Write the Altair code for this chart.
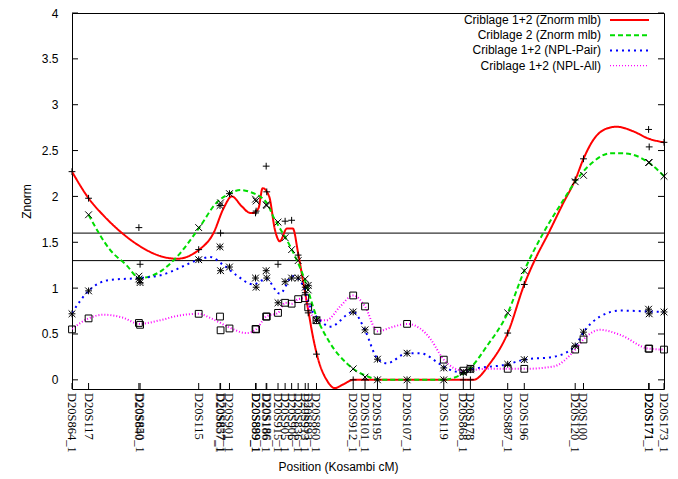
import altair as alt
import pandas as pd

# ---------------- data ----------------
series_names = ["Criblage 1+2 (Znorm mlb)", "Criblage 2 (Znorm mlb)",
                "Criblage 1+2 (NPL-Pair)", "Criblage 1+2 (NPL-All)"]

marker_names = ["D20S864_1", "D20S117", "D20S840", "D20S850_1", "D20S115",
                "D20S857_1", "D20S837_1", "D20S901_1", "D20S899_1", "D20S889_1",
                "D20S186_1", "D20S186", "D20S915_1", "D20S905_1", "D20S906",
                "D20S836_1", "D20S913_1", "D20S893", "D20S860_1", "D20S912_1",
                "D20S101_1", "D20S195", "D20S107_1", "D20S119", "D20S868_1",
                "D20S178", "D20S887_1", "D20S196", "D20S120_1", "D20S100",
                "D20S171_1", "D20S171", "D20S173_1"]
marker_pos = [0, 2.8, 11.3, 11.5, 21.4, 25.0, 25.1, 26.6, 31.0, 31.1,
              32.8, 32.9, 34.8, 36.0, 37.1, 38.2, 39.4, 39.9, 41.3, 47.5,
              49.5, 51.6, 56.6, 62.8, 66.1, 67.3, 73.6, 76.4, 85.0, 86.4,
              97.4, 97.5, 100]

red_pts = [2.27, 1.98, 1.66, 1.26, 1.42, 1.90, 1.60, 2.03, 1.82, 1.84,
           2.33, 2.05, 1.26, 1.73, 1.74, 1.36, 0.95, 0.73, 0.28, 0,
           0, 0, 0, 0, 0, 0, 0.51, 1.04, 2.18, 2.41,
           2.73, 2.54, 2.59]
green_pts = [None, 1.80, 1.13, 1.08, 1.66, 1.90, 1.93, 2.03, 1.97, 1.95,
             1.91, 1.90, 1.72, 1.55, 1.42, 1.30, 1.10, 0.98, 0.65, 0.12,
             0.03, 0, 0, 0, 0.09, 0.13, 0.73, 1.19, 2.16, 2.23,
             2.37, 2.37, 2.22]
blue_pts = [0.72, 0.97, 1.10, 1.06, 1.31, 1.45, 1.19, 1.23, 1.11, 1.01,
            1.19, 1.11, 0.84, 1.07, 1.11, 1.11, 1.01, 1.03, 0.65, 0.74,
            0.545, 0.225, 0.29, 0.13, 0.08, 0.11, 0.17, 0.22, 0.37, 0.52,
            0.77, 0.72, 0.74]
mag_pts = [0.55, 0.67, 0.62, 0.60, 0.72, 0.69, 0.54, 0.56, 0.555, 0.55,
           0.69, 0.69, 0.73, 0.84, 0.83, 0.88, 0.89, 0.79, 0.65, 0.92,
           0.80, 0.535, 0.61, 0.22, 0.10, 0.12, 0.12, 0.12, 0.33, 0.44,
           0.34, 0.34, 0.33]

# smoothed curves
red_cx = [0, 2.8, 5.5, 8.1, 11.4, 14.9, 17.7, 21.5, 23.9, 25.6,
          27.0, 28.7, 30.1, 30.6, 31.5, 32.2, 33.3, 34.3, 35.1, 36.3,
          37.3, 38.2, 39.1, 39.9, 40.7, 41.6, 43.0, 44.4, 45.8, 47.5,
          56.6, 66.1, 67.8, 70.6, 73.6, 76.4, 78.2, 80.5, 83.0, 85.0,
          86.4, 88.1, 90.3, 92.0, 94.8, 97.4, 100]
red_cy = [2.27, 1.98, 1.78, 1.62, 1.46, 1.35, 1.32, 1.42, 1.60, 1.87,
          2.00, 1.89, 1.82, 1.82, 1.87, 2.09, 2.00, 1.63, 1.51, 1.65,
          1.65, 1.38, 1.05, 0.76, 0.47, 0.22, 0.0, -0.09, -0.05, 0,
          0, 0, 0.0, 0.18, 0.51, 1.04, 1.31, 1.60, 1.93, 2.18,
          2.41, 2.62, 2.74, 2.76, 2.71, 2.63, 2.59]
green_cx = [2.8, 6.4, 9.2, 11.4, 14.9, 17.7, 21.5, 24.4, 26.6, 28.4,
            30.0, 32.9, 34.0, 34.6, 36.9, 39.1, 41.3, 43.6, 46.4, 49.8,
            52.0, 62.8, 64.4, 67.3, 70.0, 73.6, 76.4, 79.6, 83.0, 85.0,
            88.1, 90.9, 93.1, 97.4, 100]
green_cy = [1.80, 1.42, 1.25, 1.11, 1.18, 1.34, 1.66, 1.93, 2.03, 2.07,
            2.05, 1.93, 1.78, 1.71, 1.45, 1.13, 0.69, 0.40, 0.18, 0.04,
            0, 0, 0.02, 0.13, 0.36, 0.73, 1.19, 1.60, 1.96, 2.16,
            2.38, 2.47, 2.47, 2.37, 2.22]
blue_cx = [0, 2.8, 6.4, 11.4, 14.9, 21.5, 23.3, 25.6, 27.8, 30.6,
           32.8, 35.1, 37.3, 39.1, 40.2, 41.9, 43.6, 47.5, 49.5, 51.6,
           53.2, 56.6, 58.8, 62.2, 63.5, 66.1, 67.3, 73.6, 76.4, 81.3,
           85.0, 86.4, 89.2, 92.6, 97.4, 100]
blue_cy = [0.73, 0.97, 1.09, 1.11, 1.14, 1.31, 1.34, 1.25, 1.14, 1.04,
           1.10, 0.94, 1.13, 1.02, 0.80, 0.65, 0.58, 0.74, 0.54, 0.23,
           0.18, 0.29, 0.29, 0.17, 0.12, 0.08, 0.11, 0.17, 0.22, 0.25,
           0.37, 0.52, 0.69, 0.755, 0.745, 0.74]
mag_cx = [0, 2.8, 5.3, 8.5, 11.4, 14.9, 18.0, 21.4, 23.5, 25.1,
          26.6, 29.5, 31.1, 32.8, 34.8, 36.0, 37.1, 38.2, 39.4, 39.9,
          41.3, 43.0, 45.3, 47.5, 49.5, 51.6, 54.3, 56.6, 58.8, 60.5,
          62.8, 66.1, 70.0, 73.6, 76.4, 81.3, 85.0, 86.4, 89.2, 92.6,
          97.4, 100]
mag_cy = [0.555, 0.67, 0.71, 0.68, 0.61, 0.65, 0.70, 0.72, 0.67, 0.62,
          0.57, 0.51, 0.55, 0.69, 0.73, 0.84, 0.83, 0.88, 0.89, 0.80,
          0.65, 0.65, 0.80, 0.92, 0.80, 0.53, 0.58, 0.61, 0.56, 0.45,
          0.22, 0.10, 0.12, 0.12, 0.12, 0.145, 0.33, 0.44, 0.545, 0.49,
          0.34, 0.33]

thresholds = [1.6, 1.3]
y_tick_values = [0, 0.5, 1, 1.5, 2, 2.5, 3, 3.5, 4]

# ---------------- styles ----------------
colors = ["#ff0000", "#00dd00", "#0000ff", "#ff00ff"]
dashes = [[1, 0], [5, 3], [2, 4], [1, 2]]
widths = [2, 2, 2, 1.1]
shapes = ["M-1,0L1,0M0,-1L0,1",
          "M-1,-1L1,1M-1,1L1,-1",
          "M-1,0L1,0M0,-1L0,1M-1,-1L1,1M-1,1L1,-1",
          "M-1,-1L1,-1L1,1L-1,1Z"]
W, H = 592, 376
FONT = "Liberation Sans"

# ---------------- tables ----------------
curve_rows = []
for name, xs, ys in zip(series_names, [red_cx, green_cx, blue_cx, mag_cx],
                        [red_cy, green_cy, blue_cy, mag_cy]):
    for a, b in zip(xs, ys):
        curve_rows.append({"series": name, "x": a, "y": b})
curves = pd.DataFrame(curve_rows)

pt_rows = []
for name, vals in zip(series_names, [red_pts, green_pts, blue_pts, mag_pts]):
    for p, v in zip(marker_pos, vals):
        if v is not None:
            pt_rows.append({"series": name, "x": p, "y": v})
points = pd.DataFrame(pt_rows)

markers = pd.DataFrame({"name": marker_names, "x": marker_pos})
ticks_df = pd.DataFrame({"y": y_tick_values})
thr_df = pd.DataFrame({"y": thresholds})

xscale = alt.Scale(domain=[0, 100], nice=False, zero=False)
yscale = alt.Scale(domain=[-0.1, 4], nice=False, zero=False)
xaxis = alt.Axis(title="Position (Kosambi cM)", labels=False, ticks=False,
                 domain=False, grid=False, titleX=266, titleY=77,
                 titleAlign="center", titleBaseline="middle",
                 titleFont=FONT, titleFontSize=12, titleFontWeight="normal",
                 titleColor="#000")
yaxis = alt.Axis(title="Znorm", values=y_tick_values, format="~g",
                 ticks=False, domain=False, grid=False, labelPadding=14,
                 labelFont=FONT, labelFontSize=12, labelColor="#000",
                 titleAngle=270, titleX=-46, titleY=188, titleAlign="center",
                 titleBaseline="middle", titleFont=FONT, titleFontSize=12,
                 titleFontWeight="normal", titleColor="#000")


def X(f="x"):
    return alt.X(f + ":Q", scale=xscale, axis=xaxis)


def Y(f="y"):
    return alt.Y(f + ":Q", scale=yscale, axis=yaxis)


thr = alt.Chart(thr_df).mark_rule(color="black", strokeWidth=1).encode(
    y=Y(), x=alt.value(0), x2=alt.value(W))

lines = alt.Chart(curves).mark_line(interpolate="monotone", clip=True).encode(
    x=X(), y=Y(),
    color=alt.Color("series:N", scale=alt.Scale(domain=series_names, range=colors), legend=None),
    strokeDash=alt.StrokeDash("series:N", scale=alt.Scale(domain=series_names, range=dashes), legend=None),
    strokeWidth=alt.StrokeWidth("series:N", scale=alt.Scale(domain=series_names, range=widths), legend=None),
)

pts = alt.Chart(points).mark_point(filled=False, size=46, strokeWidth=1,
                                   color="black", opacity=1).encode(
    x=X(), y=Y(),
    shape=alt.Shape("series:N", scale=alt.Scale(domain=series_names, range=shapes), legend=None),
)

lticks = alt.Chart(ticks_df).mark_rule(color="black").encode(
    y=Y(), x=alt.value(0), x2=alt.value(6))
rticks = alt.Chart(ticks_df).mark_rule(color="black").encode(
    y=Y(), x=alt.value(W - 6), x2=alt.value(W))
bticks = alt.Chart(markers).mark_rule(color="black").encode(
    x=X(), y=alt.value(H), y2=alt.value(H - 6))

mlabels = alt.Chart(markers).mark_text(angle=90, align="left", baseline="middle",
                                       font="Liberation Serif", fontSize=12.5,
                                       color="black").encode(
    x=X(), y=alt.value(H + 4), text="name:N")

legend_layers = []
for i, name in enumerate(series_names):
    d = pd.DataFrame({"series": [name]})
    yy = 7 + 15.2 * i
    legend_layers.append(
        alt.Chart(d).mark_text(align="right", baseline="middle", font=FONT,
                               fontSize=12, color="black").encode(
            x=alt.value(529), y=alt.value(yy), text="series:N"))
    legend_layers.append(
        alt.Chart(d).mark_rule(color=colors[i], strokeDash=dashes[i],
                               strokeWidth=widths[i]).encode(
            x=alt.value(538), x2=alt.value(577), y=alt.value(yy)))

chart = alt.layer(thr, lines, pts, lticks, rticks, bticks, mlabels,
                  *legend_layers).properties(
    width=W, height=H,
    padding={"left": 72, "top": 13, "right": 14, "bottom": 90},
    autosize=alt.AutoSizeParams(type="none"),
    background="white",
).configure_view(stroke="black", strokeWidth=1)

chart.save("out.html", embed_options={"renderer": "svg", "actions": False})
